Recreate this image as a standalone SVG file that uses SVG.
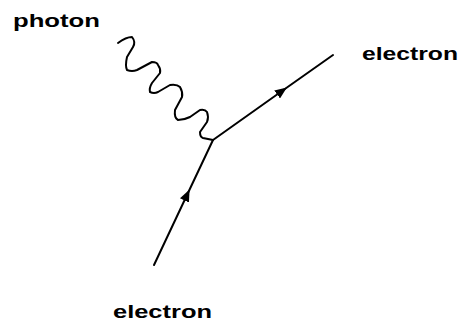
<svg xmlns="http://www.w3.org/2000/svg" width="462" height="324" viewBox="0 0 462 324">
<style>
.lbl{font-family:"Liberation Sans",Arial,sans-serif;font-weight:bold;font-size:18px;fill:#000}
.ln{fill:none;stroke:#000;stroke-width:2;stroke-linejoin:round;stroke-linecap:round}
</style>
<defs>
<marker id="arr" viewBox="0 0 12 10" refX="6" refY="5" markerWidth="12" markerHeight="10" markerUnits="userSpaceOnUse" orient="auto">
<path d="M0,0 L12,5 L0,10 Z" fill="#000"/>
</marker>
</defs>
<rect width="462" height="324" fill="#fff"/>
<g id="connectors">
<path id="photon-line" class="ln" d="M118,43 Q126,37 132,37 Q136,42 133,47 L127,57 Q125,66 127,70 Q132,72 137,70 L152,62 Q157,62 158,65 Q161,69 160,73 L152,83 Q149,88 150,92 Q154,94 158,92 L170,85 Q177,84 180,87 Q183,92 182,97 L175,110 Q174,118 178,120 Q184,120 190,117 L200,110 Q205,109 207,112 Q209,117 207,122 L200,132 Q200,137 203,138 L213,140"/>
<path id="electron-in" class="ln" d="M154,265 L187,195 L213,140" marker-mid="url(#arr)"/>
<path id="electron-out" class="ln" d="M213,140 L282,91 L333,55" marker-mid="url(#arr)"/>
</g>
<g id="label-photon"><text class="lbl" x="13" y="27" textLength="87" lengthAdjust="spacingAndGlyphs">photon</text></g>
<g id="label-electron-out"><text class="lbl" x="362" y="60" textLength="96" lengthAdjust="spacingAndGlyphs">electron</text></g>
<g id="label-electron-in"><text class="lbl" x="113" y="318" textLength="99" lengthAdjust="spacingAndGlyphs">electron</text></g>
</svg>
